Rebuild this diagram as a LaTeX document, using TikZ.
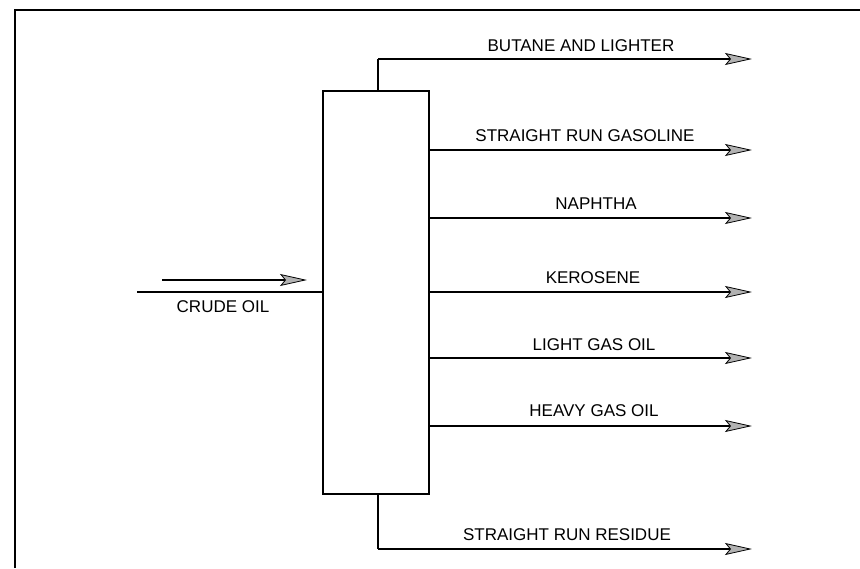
\documentclass[tikz,border=0pt]{standalone}
\usepackage{fontspec}
\setmainfont{Liberation Sans}
\usetikzlibrary{arrows.meta}
\tikzset{
  flow/.style={line width=1.3pt,-{Stealth[length=27pt,width=12pt,inset=5pt,fill=gray!60,line width=0.8pt]}},
  pipe/.style={line width=1.3pt},
  lbl/.style={font=\fontsize{17}{19}\selectfont, inner sep=0pt, anchor=base},
  column/.style={draw, line width=1.3pt, minimum width=106pt, minimum height=403pt, inner sep=0pt}
}
\begin{document}
\begin{tikzpicture}[x=1pt,y=-1pt]
\useasboundingbox (0,0) rectangle (860,568);
% frame (cropped scan edge)
\draw[line width=1.4pt] (15,568) -- (15,10) -- (860,10);
% column
\node[column] (col) at (376,292.5) {};
% top and bottom pipes
\coordinate (topT) at (378,59);
\coordinate (botT) at (378,549);
\coordinate (eB) at (752,59);
\coordinate (eR) at (752,549);
\draw[pipe] (col.north -| topT) -- (topT);
\draw[flow] (topT) -- (eB);
\draw[pipe] (col.south -| botT) -- (botT);
\draw[flow] (botT) -- (eR);
% side draws
\foreach \n/\yy in {g/150, n/218, k/292, l/358, h/426}{
  \coordinate (e\n) at (752,\yy);
  \draw[flow] (col.east |- e\n) -- (e\n);
}
% labels
\node[lbl] (tB) at (581,51) {BUTANE AND LIGHTER};
\node[lbl] (tG) at (585,141.5) {STRAIGHT RUN GASOLINE};
\node[lbl] (tN) at (596,209.5) {NAPHTHA};
\node[lbl] (tK) at (593,283.5) {KEROSENE};
\node[lbl] (tL) at (594,350) {LIGHT GAS OIL};
\node[lbl] (tH) at (594,416.5) {HEAVY GAS OIL};
\node[lbl] (tR) at (567,540.5) {STRAIGHT RUN RESIDUE};
% crude oil feed
\coordinate (feedS) at (137,292);
\draw[pipe] (feedS) -- (col.west |- feedS);
\coordinate (aS) at (162,280);
\coordinate (aE) at (307,280);
\draw[flow] (aS) -- (aE);
\node[lbl] (tC) at (223,312) {CRUDE OIL};
\end{tikzpicture}
\end{document}
